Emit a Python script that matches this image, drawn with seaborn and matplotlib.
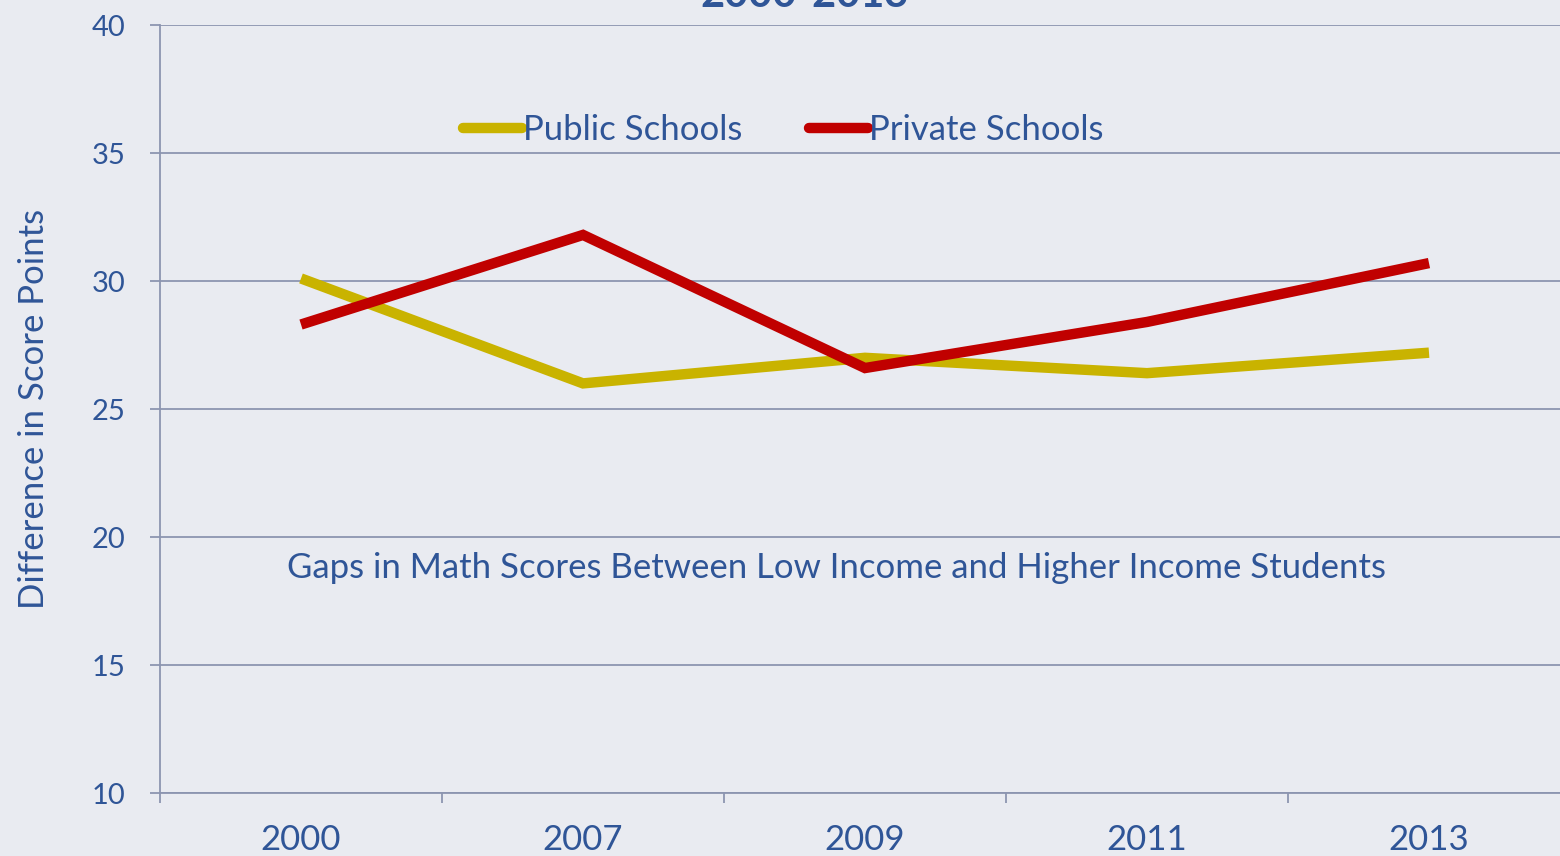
import numpy as np
import pandas as pd
import matplotlib
matplotlib.use("Agg")
import matplotlib.pyplot as plt
import seaborn as sns
from matplotlib.ticker import FixedLocator

# data
years = ["2000", "2007", "2009", "2011", "2013"]
public_gap = [30.1, 26.0, 27.0, 26.4, 27.2]
private_gap = [28.3, 31.8, 26.6, 28.4, 30.7]
series_names = ["Public Schools", "Private Schools"]
y_ticks = [10, 15, 20, 25, 30, 35, 40]

df = pd.DataFrame({
    "Year": years * 2,
    "Gap": public_gap + private_gap,
    "Sector": [series_names[0]] * len(years) + [series_names[1]] * len(years),
})

bg = "#E9EBF1"
grid_col = "#8C95B0"
text_col = "#2F5597"

sns.set_theme(style="white")
plt.rcParams["font.family"] = ["Lato", "DejaVu Sans"]

fig = plt.figure(figsize=(15.6, 8.56), dpi=100, facecolor=bg)
ax = fig.add_axes([160 / 1560, 63 / 856, 1410 / 1560, 768 / 856])
ax.set_facecolor(bg)

sns.lineplot(data=df, x="Year", y="Gap", hue="Sector", sort=False,
             palette={"Public Schools": "#C9B300", "Private Schools": "#C00000"},
             linewidth=7.5, ax=ax, legend=True)
for ln in ax.lines:
    ln.set_solid_capstyle("butt")
    ln.set_solid_joinstyle("miter")

ax.set_xlim(-0.5, len(years) - 0.5)
ax.set_ylim(10, 40)
ax.set_yticks(y_ticks)
ax.yaxis.grid(True, color=grid_col, linewidth=1.3)
ax.xaxis.grid(False)
ax.set_axisbelow(True)

for s in ["top", "right"]:
    ax.spines[s].set_visible(False)
for s in ["left", "bottom"]:
    ax.spines[s].set_color(grid_col)
    ax.spines[s].set_linewidth(1.3)

ax.xaxis.set_minor_locator(FixedLocator(np.arange(-0.5, len(years), 1.0)))
ax.tick_params(axis="x", which="major", bottom=True, length=0, pad=22,
               labelsize=25, labelcolor=text_col)
ax.tick_params(axis="x", which="minor", bottom=True, length=7, width=1.3,
               color=grid_col, direction="out")
ax.tick_params(axis="y", left=True, length=7, width=1.3, color=grid_col,
               direction="out", pad=18, labelsize=21, labelcolor=text_col)

ax.set_xlabel("")
ax.set_ylabel("Difference in Score Points", fontsize=25, color=text_col, labelpad=30)

leg = ax.legend(loc="upper center", bbox_to_anchor=(0.442, 0.925), ncol=2, frameon=False,
                handlelength=1.7, handletextpad=0.05, columnspacing=1.9,
                fontsize=25, labelcolor=text_col)
for h in leg.get_lines():
    h.set_linewidth(7.5)
    h.set_solid_capstyle("round")

ax.text(1.9, 18.8, "Gaps in Math Scores Between Low Income and Higher Income Students",
        ha="center", va="center", fontsize=25, color=text_col)

fig.text(805 / 1560, 1 - 7 / 856, "2000-2013", ha="center", va="baseline",
         fontsize=30, fontweight="bold", color=text_col)

fig.savefig("out.png", dpi=100, facecolor=bg)
